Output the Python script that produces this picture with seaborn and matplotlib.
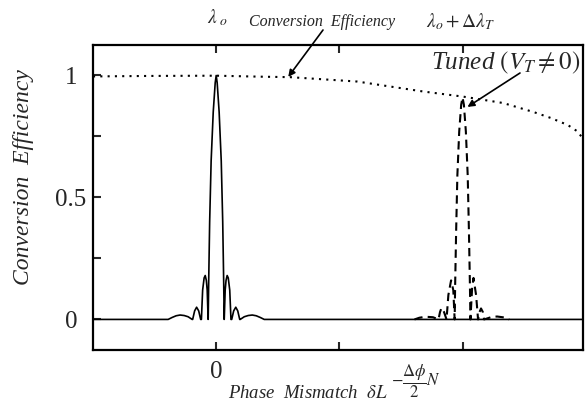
import matplotlib
matplotlib.use("Agg")
import matplotlib.pyplot as plt
import seaborn as sns
import pandas as pd

# untuned response (solid), centred at zero mismatch
solid_x = [-1.0, -0.390, -0.358, -0.325, -0.293, -0.260, -0.228, -0.195,
           -0.191, -0.175, -0.159, -0.142, -0.126,
           -0.120, -0.110, -0.098, -0.089, -0.080, -0.073, -0.066,
           -0.065, -0.061, -0.053, -0.041, -0.024, -0.008, 0.0,
           0.008, 0.024, 0.041, 0.053, 0.061, 0.065,
           0.066, 0.073, 0.080, 0.089, 0.098, 0.110, 0.120,
           0.126, 0.142, 0.159, 0.175, 0.191,
           0.195, 0.228, 0.260, 0.293, 0.325, 0.358, 0.390, 2.98]
solid_y = [0, 0, 0.008, 0.015, 0.018, 0.016, 0.011, 0,
           0, 0.035, 0.05, 0.035, 0,
           0, 0.12, 0.17, 0.18, 0.16, 0.12, 0.01,
           0, 0.15, 0.40, 0.65, 0.85, 0.97, 1.0,
           0.97, 0.85, 0.65, 0.40, 0.15, 0,
           0.01, 0.12, 0.16, 0.18, 0.17, 0.12, 0,
           0, 0.035, 0.05, 0.035, 0,
           0, 0.011, 0.016, 0.018, 0.015, 0.008, 0, 0]

# tuned response (dashed)
tuned_x = [1.610, 1.650, 1.700, 1.760, 1.805,
           1.817, 1.829, 1.850, 1.870,
           1.885, 1.907, 1.925, 1.936,
           1.940, 1.948, 1.958, 1.973, 1.989, 2.0,
           2.011, 2.027, 2.042, 2.052, 2.060, 2.064,
           2.078, 2.089, 2.110, 2.126,
           2.138, 2.150, 2.165, 2.175,
           2.230, 2.280, 2.340, 2.378]
tuned_y = [0, 0.007, 0.011, 0.009, 0,
           0.03, 0.047, 0.03, 0,
           0.10, 0.16, 0.12, 0,
           0.14, 0.36, 0.59, 0.77, 0.88, 0.91,
           0.88, 0.77, 0.59, 0.36, 0.14, 0,
           0.13, 0.17, 0.10, 0,
           0.03, 0.045, 0.03, 0,
           0.009, 0.012, 0.008, 0]

# conversion efficiency envelope (dotted)
eff_x = [-1.0, -0.537, 0.0, 0.358, 0.60, 1.146, 1.683, 2.008, 2.33,
         2.577, 2.715, 2.854, 2.935, 2.984]
eff_y = [0.996, 0.998, 0.999, 0.995, 0.993, 0.975, 0.934, 0.913, 0.887,
         0.85, 0.826, 0.797, 0.77, 0.736]

x_ticks = [0, 1, 2]
x_ticklabels = ["0", "", ""]
y_ticks = [0, 0.25, 0.5, 0.75, 1]
y_ticklabels = ["0", "", "0.5", "", "1"]

sns.set_style("ticks")
plt.rcParams['font.family'] = ['Liberation Serif', 'DejaVu Serif']
plt.rcParams['mathtext.fontset'] = 'stix'

fig = plt.figure(figsize=(5.85, 4.05), dpi=100)
ax = fig.add_axes([0.159, 0.136, 0.838, 0.753])

df_solid = pd.DataFrame({"x": solid_x, "y": solid_y})
df_tuned = pd.DataFrame({"x": tuned_x, "y": tuned_y})
df_eff = pd.DataFrame({"x": eff_x, "y": eff_y})

sns.lineplot(data=df_solid, x="x", y="y", ax=ax, color="black", lw=1.2,
             estimator=None, sort=False)
sns.lineplot(data=df_tuned, x="x", y="y", ax=ax, color="black", lw=1.5,
             linestyle=(0, (4, 2.5)), estimator=None, sort=False)
sns.lineplot(data=df_eff, x="x", y="y", ax=ax, color="black", lw=1.5,
             linestyle=(0, (1, 2.5)), estimator=None, sort=False)

ax.set_xlim(-1, 2.98)
ax.set_ylim(-0.125, 1.125)
ax.set_xlabel("")
ax.set_ylabel("")

# ticks pointing inward, top and bottom
ax.set_xticks(x_ticks)
ax.set_xticklabels(x_ticklabels)
ax.set_yticks(y_ticks)
ax.set_yticklabels(y_ticklabels)
ax.tick_params(axis="x", direction="in", top=True, length=6, width=1.5,
               labelsize=18, pad=8)
ax.tick_params(axis="y", direction="in", length=6, width=1.5,
               labelsize=18, pad=16)
for lab in ax.get_yticklabels():
    lab.set_horizontalalignment("center")
for sp in ax.spines.values():
    sp.set_linewidth(1.6)
    sp.set_color("black")

# axis titles
fig.text(24 / 585, 1 - 177 / 405, "Conversion  Efficiency", rotation=90,
         fontsize=17, style="italic", ha="center", va="center")
xlab = fig.text(228 / 585, 1 - 393 / 405, r"Phase  Mismatch  $\delta L$",
                fontsize=13.5, style="italic", ha="left", va="center")
# fraction raised after the label, placed relative to the label's end
ax.annotate(r"$-\dfrac{\Delta\phi}{2}N$", xy=(1, 0.5), xycoords=xlab,
            xytext=(2, 8), textcoords="offset points",
            fontsize=12, ha="left", va="center", annotation_clip=False)

# labels on top
fig.text(217 / 585, 1 - 18 / 405, r"$\lambda_{\ o}$", fontsize=14,
         ha="center", va="center")
fig.text(461 / 585, 1 - 22 / 405, r"$\lambda_o + \Delta\lambda_T$",
         fontsize=14, ha="center", va="center")
fig.text(322 / 585, 1 - 22 / 405, "Conversion  Efficiency", fontsize=11.5,
         style="italic", ha="center", va="center")
fig.text(506 / 585, 1 - 63 / 405, r"Tuned $(V_T \neq 0)$", fontsize=18,
         style="italic", ha="center", va="center")

# arrows
ax.annotate("", xy=(0.585, 0.994), xytext=(323 / 585, 1 - 30 / 405),
            textcoords="figure fraction",
            arrowprops=dict(arrowstyle="-|>", color="black", lw=1.2,
                            mutation_scale=10, shrinkA=0, shrinkB=0))
ax.annotate("", xy=(2.04, 0.871), xytext=(520 / 585, 1 - 73 / 405),
            textcoords="figure fraction",
            arrowprops=dict(arrowstyle="-|>", color="black", lw=1.2,
                            mutation_scale=10, shrinkA=0, shrinkB=0))

plt.savefig("out.png", dpi=100)
